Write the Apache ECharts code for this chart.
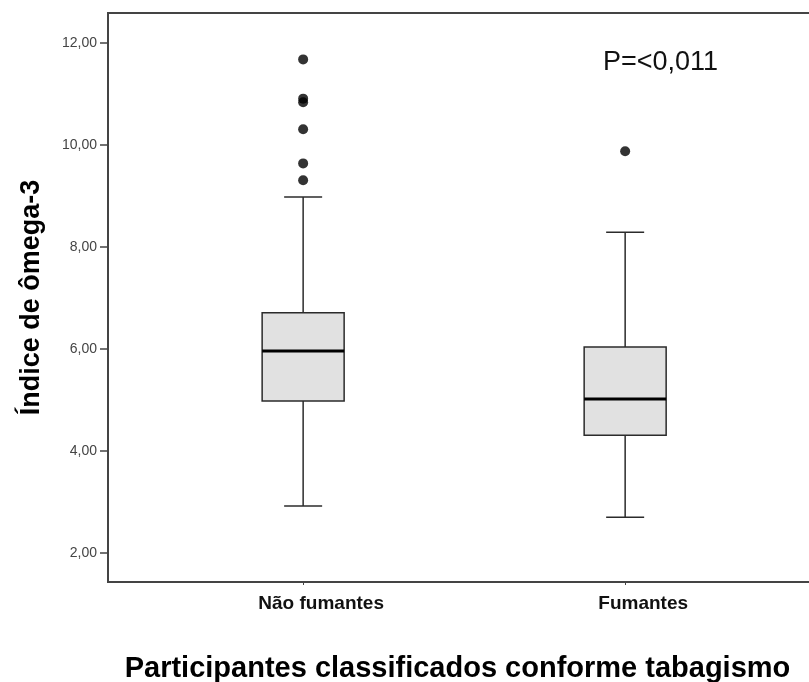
<!DOCTYPE html>
<html>
<head>
<meta charset="utf-8">
<script src="https://cdn.jsdelivr.net/npm/echarts@6/dist/echarts.min.js"></script>
<style>
    html, body { margin: 0; padding: 0; background: #fff; }
    #main { width: 809px; height: 682px; }
</style>
</head>
<body>
<div id="main"></div>
<script>
    // grupos e estatísticas (min, Q1, mediana, Q3, max)
    var categories = ['Não fumantes', 'Fumantes'];
    var positions = [1, 2];
    var boxMin = [2.92, 2.70];
    var boxQ1 = [4.98, 4.31];
    var boxMedian = [5.96, 5.02];
    var boxQ3 = [6.71, 6.04];
    var boxMax = [8.98, 8.29];
    // outliers: [grupo, valor]
    var outlierGroup = [1, 1, 1, 1, 1, 1, 2];
    var outlierValue = [11.68, 10.91, 10.84, 10.31, 9.64, 9.31, 9.88];
    var yTicks = [2, 4, 6, 8, 10, 12];

    var boxData = positions.map(function (p, i) {
        return [p, boxMin[i], boxQ1[i], boxMedian[i], boxQ3[i], boxMax[i]];
    });
    var outlierData = outlierGroup.map(function (g, i) {
        return [g, outlierValue[i]];
    });

    function renderBox(params, api) {
        var x = api.value(0);
        var pMin = api.coord([x, api.value(1)]);
        var pQ1 = api.coord([x, api.value(2)]);
        var pMed = api.coord([x, api.value(3)]);
        var pQ3 = api.coord([x, api.value(4)]);
        var pMax = api.coord([x, api.value(5)]);
        var half = 41, cap = 19;
        var stroke = {stroke: '#2b2b2b', lineWidth: 1.5};
        return {
            type: 'group',
            children: [
                {type: 'line', shape: {x1: pMin[0], y1: pMin[1], x2: pQ1[0], y2: pQ1[1]}, style: stroke},
                {type: 'line', shape: {x1: pQ3[0], y1: pQ3[1], x2: pMax[0], y2: pMax[1]}, style: stroke},
                {type: 'line', shape: {x1: pMin[0] - cap, y1: pMin[1], x2: pMin[0] + cap, y2: pMin[1]}, style: stroke},
                {type: 'line', shape: {x1: pMax[0] - cap, y1: pMax[1], x2: pMax[0] + cap, y2: pMax[1]}, style: stroke},
                {
                    type: 'rect',
                    shape: {x: pQ3[0] - half, y: pQ3[1], width: half * 2, height: pQ1[1] - pQ3[1]},
                    style: {fill: '#e1e1e1', stroke: '#2b2b2b', lineWidth: 1.5}
                },
                {type: 'line', shape: {x1: pMed[0] - half, y1: pMed[1], x2: pMed[0] + half, y2: pMed[1]},
                    style: {stroke: '#000', lineWidth: 3}}
            ]
        };
    }

    var myChart = echarts.init(document.getElementById('main'));
    var option = {
        animation: false,
        backgroundColor: '#fff',
        textStyle: {fontFamily: 'Liberation Sans'},
        graphic: [{
            type: 'text',
            left: 603,
            top: 49,
            style: {text: 'P=<0,011', fontSize: 27, fontFamily: 'Liberation Sans', fill: '#111'}
        }],
        grid: {
            left: 108,
            top: 13,
            right: -10,
            bottom: 100,
            outerBoundsMode: 'none',
            show: true,
            borderColor: '#444',
            borderWidth: 2
        },
        xAxis: {
            type: 'value',
            min: 0.394,
            max: 2.602,
            name: 'Participantes classificados conforme tabagismo',
            nameLocation: 'middle',
            nameGap: 72,
            nameTextStyle: {
                fontSize: 29, fontWeight: 'bold', color: '#000', fontFamily: 'Liberation Sans',
                padding: [0, 12, 0, 0]
            },
            splitLine: {show: false},
            axisLine: {show: true, lineStyle: {color: '#444', width: 2}},
            axisTick: {show: true, customValues: positions, length: 3, lineStyle: {color: '#444'}},
            axisLabel: {
                customValues: positions,
                margin: 12,
                fontSize: 19,
                fontWeight: 'bold',
                color: '#111',
                padding: [0, 0, 0, 36],
                formatter: function (v) {
                    return categories[Math.round(v) - 1];
                }
            }
        },
        yAxis: {
            type: 'value',
            min: 1.43,
            max: 12.59,
            name: 'Índice de ômega-3',
            nameLocation: 'middle',
            nameGap: 63,
            nameTextStyle: {fontSize: 27, fontWeight: 'bold', color: '#000', fontFamily: 'Liberation Sans'},
            splitLine: {show: false},
            axisLine: {show: true, lineStyle: {color: '#444', width: 2}},
            axisTick: {show: true, customValues: yTicks, length: 8, lineStyle: {color: '#444', width: 1.5}},
            axisLabel: {
                customValues: yTicks,
                margin: 11,
                fontSize: 14,
                color: '#444',
                formatter: function (v) {
                    return v.toFixed(2).replace('.', ',');
                }
            }
        },
        series: [{
            type: 'custom',
            renderItem: renderBox,
            data: boxData,
            encode: {x: 0, y: [1, 2, 3, 4, 5]},
            z: 2
        }, {
            type: 'scatter',
            data: outlierData,
            symbolSize: 10,
            itemStyle: {color: '#000'},
            z: 3
        }]
    };
    myChart.setOption(option);
</script>
</body>
</html>
